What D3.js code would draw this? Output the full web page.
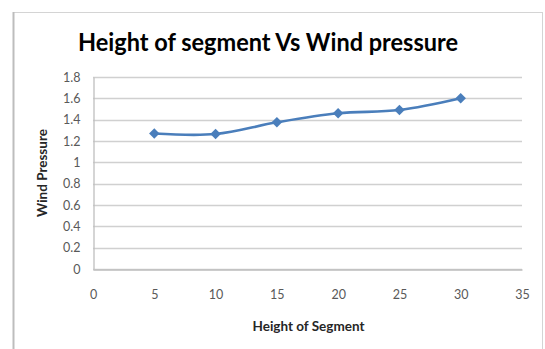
<!DOCTYPE html>
<html>
<head>
<meta charset="utf-8">
<script src="https://cdn.jsdelivr.net/npm/d3@7"></script>
<style>
  html, body { margin: 0; padding: 0; background: #fff; }
  svg { display: block; }
</style>
</head>
<body>
<svg id="chart" width="545" height="349"></svg>
<script>
// Wind pressure measured at each segment height
const heights = [5, 10, 15, 20, 25, 30];
const pressures = [1.27, 1.265, 1.375, 1.46, 1.49, 1.60];
const xTicks = [0, 5, 10, 15, 20, 25, 30, 35];
const yTicks = [0, 0.2, 0.4, 0.6, 0.8, 1, 1.2, 1.4, 1.6, 1.8];

const titleText = "Height of segment Vs Wind pressure";
const xTitle = "Height of Segment";
const yTitle = "Wind Pressure";

const svg = d3.select("#chart");
const W = 545, H = 349;
const font = "Lato, 'Open Sans', 'Liberation Sans', sans-serif";

// chart frame
svg.append("rect")
  .attr("x", 13.5).attr("y", 12.5)
  .attr("width", 529).attr("height", 345)
  .attr("fill", "#fff")
  .attr("stroke", "#d4d4d4").attr("stroke-width", 1);
svg.append("line")
  .attr("x1", 13.5).attr("x2", 13.5).attr("y1", 12).attr("y2", H)
  .attr("stroke", "#bdbdbd").attr("stroke-width", 2);

const plot = { left: 93, right: 522, top: 77, bottom: 269 };

const x = d3.scaleLinear().domain([0, 35]).range([plot.left, plot.right]);
const y = d3.scaleLinear().domain([0, 1.8]).range([plot.bottom, plot.top]);

// horizontal gridlines
svg.append("g")
  .selectAll("line")
  .data(yTicks)
  .join("line")
  .attr("x1", plot.left).attr("x2", plot.right)
  .attr("y1", d => Math.round(y(d)) + 0.5).attr("y2", d => Math.round(y(d)) + 0.5)
  .attr("stroke", "#d0d0d0").attr("stroke-width", 1.3);

// y axis
const yAxis = svg.append("g")
  .attr("transform", `translate(${plot.left + 0.5},0)`)
  .call(d3.axisLeft(y).tickValues(yTicks).tickSize(0).tickPadding(13)
    .tickFormat(d => d3.format("~g")(d)));
yAxis.select(".domain").attr("stroke", "#bfbfbf").attr("stroke-width", 1.3);
yAxis.selectAll("text")
  .attr("fill", "#595959").attr("font-size", 12.5).attr("font-family", font);

// x axis
const xAxis = svg.append("g")
  .attr("transform", `translate(0,${Math.round(plot.bottom) + 0.5})`)
  .call(d3.axisBottom(x).tickValues(xTicks).tickSize(0).tickPadding(21));
xAxis.select(".domain").attr("stroke", "#bfbfbf").attr("stroke-width", 1.3);
xAxis.selectAll("text")
  .attr("fill", "#595959").attr("font-size", 12.5).attr("font-family", font);

// series line, smoothed
const line = d3.line()
  .x((d, i) => x(heights[i]))
  .y(d => y(d))
  .curve(d3.curveCatmullRom.alpha(0.5));

svg.append("path")
  .datum(pressures)
  .attr("d", line)
  .attr("fill", "none")
  .attr("stroke", "#4a7ebb")
  .attr("stroke-width", 2.6);

// diamond markers
const diamond = d3.symbol().type(d3.symbolDiamond2).size(70);
svg.append("g")
  .selectAll("path")
  .data(pressures)
  .join("path")
  .attr("transform", (d, i) => `translate(${x(heights[i])},${y(d)})`)
  .attr("d", diamond)
  .attr("fill", "#4a7ebb");

// title
svg.append("text")
  .attr("x", 268).attr("y", 51)
  .attr("text-anchor", "middle")
  .attr("font-family", font)
  .attr("font-weight", "bold")
  .attr("font-size", 24)
  .attr("textLength", 380)
  .attr("lengthAdjust", "spacingAndGlyphs")
  .attr("fill", "#000")
  .text(titleText);

// axis titles
svg.append("text")
  .attr("x", (plot.left + plot.right) / 2 + 1).attr("y", 331)
  .attr("text-anchor", "middle")
  .attr("font-family", font).attr("font-weight", "bold").attr("font-size", 13.5)
  .attr("fill", "#262626")
  .text(xTitle);

svg.append("text")
  .attr("transform", `translate(47,${(plot.top + plot.bottom) / 2}) rotate(-90)`)
  .attr("text-anchor", "middle")
  .attr("font-family", font).attr("font-weight", "bold").attr("font-size", 13.5)
  .attr("fill", "#262626")
  .text(yTitle);
</script>
</body>
</html>
